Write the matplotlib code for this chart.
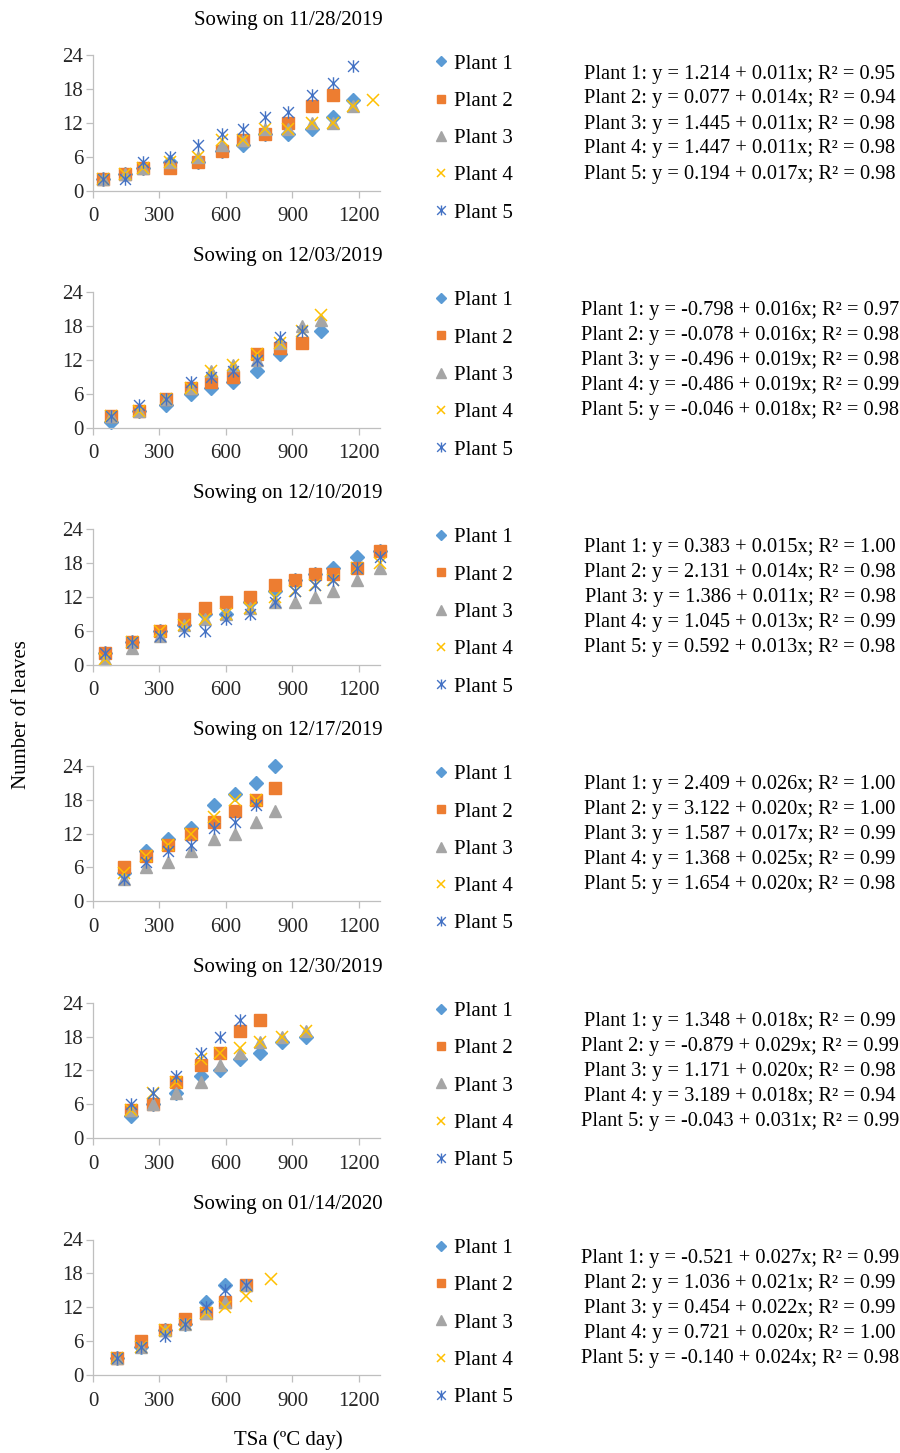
import numpy as np
import matplotlib.pyplot as plt
from matplotlib.path import Path

plt.rcParams['font.family'] = ['Liberation Serif', 'DejaVu Serif']

nan = np.nan

sowing = ["11/28/2019", "12/03/2019", "12/10/2019", "12/17/2019", "12/30/2019", "01/14/2020"]

# thermal sum (TSa, degC day) of each sampling, per sowing date
tsa = [
    [45, 143, 226, 346, 474, 580, 677, 775, 881, 986, 1084, 1174, 1265],
    [80, 208, 328, 440, 534, 632, 738, 843, 941, 1031],
    [53, 178, 301, 409, 507, 602, 708, 821, 911, 1001, 1084, 1190, 1295],
    [139, 241, 339, 440, 545, 640, 735, 821],
    [173, 271, 373, 486, 575, 665, 753, 855, 963],
    [110, 218, 324, 417, 512, 597, 692, 805],
]

# number of leaves, per sowing date
plant1 = [
    [2, 3, 4, 5, 5, 7, 8, 10, 10, 11, 13, 16, nan],
    [1, 3, 4, 6, 7, 8, 10, 13, nan, 17],
    [2, 4, 6, 7, 9, 9, 11, 13, 15, 16, 17, 19, 20],
    [5, 9, 11, 13, 17, 19, 21, 24],
    [4, 6, 8, 11, 12, 14, 15, 17, 18],
    [3, 5, 8, 9, 13, 16, nan, nan],
]
plant2 = [
    [2, 3, 4, 4, 5, 7, 9, 10, 12, 15, 17, nan, nan],
    [2, 3, 5, 7, 8, 9, 13, 14, 15, nan],
    [2, 4, 6, 8, 10, 11, 12, 14, 15, 16, 16, 17, 20],
    [6, 8, 10, 12, 14, 16, 18, 20],
    [5, 6, 10, 13, 15, 19, 21, nan, nan],
    [3, 6, 8, 10, 11, 13, 16, nan],
]
plant3 = [
    [2, 3, 4, 5, 6, 8, 9, 11, 11, 12, 12, 15, nan],
    [2, 3, 5, 7, 10, 11, 12, 15, 18, 19],
    [1, 3, 5, 7, 8, 9, 10, 11, 11, 12, 13, 15, 17],
    [4, 6, 7, 9, 11, 12, 14, 16],
    [5, 6, 8, 10, 13, 15, 17, 18, 19],
    [3, 5, 8, 9, 11, 13, 16, nan],
]
plant4 = [
    [2, 3, 4, 5, 6, 9, 9, 11, 11, 12, 12, 15, 16],
    [2, 3, 5, 7, 10, 11, 13, 15, 17, 20],
    [1, 4, 6, 7, 8, 9, 10, 12, 13, 14, 15, 17, 18],
    [5, 8, 10, 12, 15, 18, 18, nan],
    [5, 8, 10, 14, 15, 16, 17, 18, 19],
    [3, 5, 8, 9, 11, 12, 14, 17],
]
plant5 = [
    [2, 2, 5, 6, 8, 10, 11, 13, 14, 17, 19, 22, nan],
    [2, 4, 5, 8, 9, 10, 12, 16, 17, nan],
    [2, 4, 5, 6, 6, 8, 9, 11, 13, 14, 15, 17, 19],
    [4, 7, 9, 10, 13, 14, 17, nan],
    [6, 8, 11, 15, 18, 21, nan, nan, nan],
    [3, 5, 7, 9, 12, 15, 16, nan],
]

# linear fits: intercept, slope, R2 (rows = sowing dates, columns = plants)
intercepts = [
    [1.214, 0.077, 1.445, 1.447, 0.194],
    [-0.798, -0.078, -0.496, -0.486, -0.046],
    [0.383, 2.131, 1.386, 1.045, 0.592],
    [2.409, 3.122, 1.587, 1.368, 1.654],
    [1.348, -0.879, 1.171, 3.189, -0.043],
    [-0.521, 1.036, 0.454, 0.721, -0.140],
]
slopes = [
    [0.011, 0.014, 0.011, 0.011, 0.017],
    [0.016, 0.016, 0.019, 0.019, 0.018],
    [0.015, 0.014, 0.011, 0.013, 0.013],
    [0.026, 0.020, 0.017, 0.025, 0.020],
    [0.018, 0.029, 0.020, 0.018, 0.031],
    [0.027, 0.021, 0.022, 0.020, 0.024],
]
r2 = [
    [0.95, 0.94, 0.98, 0.98, 0.98],
    [0.97, 0.98, 0.98, 0.99, 0.98],
    [1.00, 0.98, 0.98, 0.99, 0.98],
    [1.00, 1.00, 0.99, 0.99, 0.98],
    [0.99, 0.99, 0.98, 0.94, 0.99],
    [0.99, 0.99, 0.99, 1.00, 0.98],
]

W, H = 900, 1453
fig = plt.figure(figsize=(W / 100, H / 100), dpi=100)

star = Path([(-1, -1), (1, 1), (-1, 1), (1, -1), (0, -1.15), (0, 1.15)],
            [Path.MOVETO, Path.LINETO] * 3)
styles = [
    dict(marker="D", ms=7, color="#5B9BD5", mec="#5B9BD5"),
    dict(marker="s", ms=8, color="#ED7D31", mec="#ED7D31"),
    dict(marker="^", ms=9, color="#A5A5A5", mec="#A5A5A5"),
    dict(marker="x", ms=8, color="#FFC000", mew=1.1),
    dict(marker=star, ms=9, color="#4472C4", mew=1.0),
]
series = [plant1, plant2, plant3, plant4, plant5]
grey = "#BFBFBF"

left, right = 93, 380
for i, date in enumerate(sowing):
    y0 = 190.7 + i * 236.9
    top = y0 - 135.7
    ax = fig.add_axes([left / W, 1 - y0 / H, (right - left) / W, (y0 - top) / H])
    handles = []
    for k, plant in enumerate(series):
        (h,) = ax.plot(tsa[i], plant[i], ls="none", clip_on=False,
                       label=f"Plant {k + 1}", **styles[k])
        handles.append(h)
    ax.set_xlim(0, 1295)
    ax.set_ylim(0, 24)
    ax.set_xticks([0, 300, 600, 900, 1200])
    ax.set_yticks([0, 6, 12, 18, 24])
    for s in ("top", "right"):
        ax.spines[s].set_visible(False)
    for s in ("left", "bottom"):
        ax.spines[s].set_color(grey)
        ax.spines[s].set_linewidth(0.9)
    ax.tick_params(axis="both", colors=grey, labelcolor="#262626",
                   labelsize=15, length=5, width=0.9)
    ax.tick_params(axis="x", pad=7)
    ax.tick_params(axis="y", pad=2)

    fig.text(288 / W, 1 - (top - 35) / H, f"Sowing on {date}",
             ha="center", va="center", fontsize=15)

    fig.legend(handles=handles, loc="upper left",
               bbox_to_anchor=(433 / W, 1 - (top - 1) / H),
               frameon=False, fontsize=15, labelspacing=0.85,
               handlelength=0.8, handletextpad=0.2, markerscale=0.8,
               borderpad=0, borderaxespad=0)

    for k in range(5):
        txt = (f"Plant {k + 1}: y = {intercepts[i][k]:.3f} + "
               f"{slopes[i][k]:.3f}x; R\u00b2 = {r2[i][k]:.2f}")
        fig.text(740 / W, 1 - (top + 19 + 25 * k) / H, txt,
                 ha="center", va="center", fontsize=14.7)

fig.text(22 / W, 1 - 715 / H, "Number of leaves", rotation=90,
         ha="center", va="center", fontsize=15)
fig.text(288 / W, 1 - 1440 / H, "TSa (\u00baC day)",
         ha="center", va="center", fontsize=15)

fig.savefig("out.png", dpi=100)
